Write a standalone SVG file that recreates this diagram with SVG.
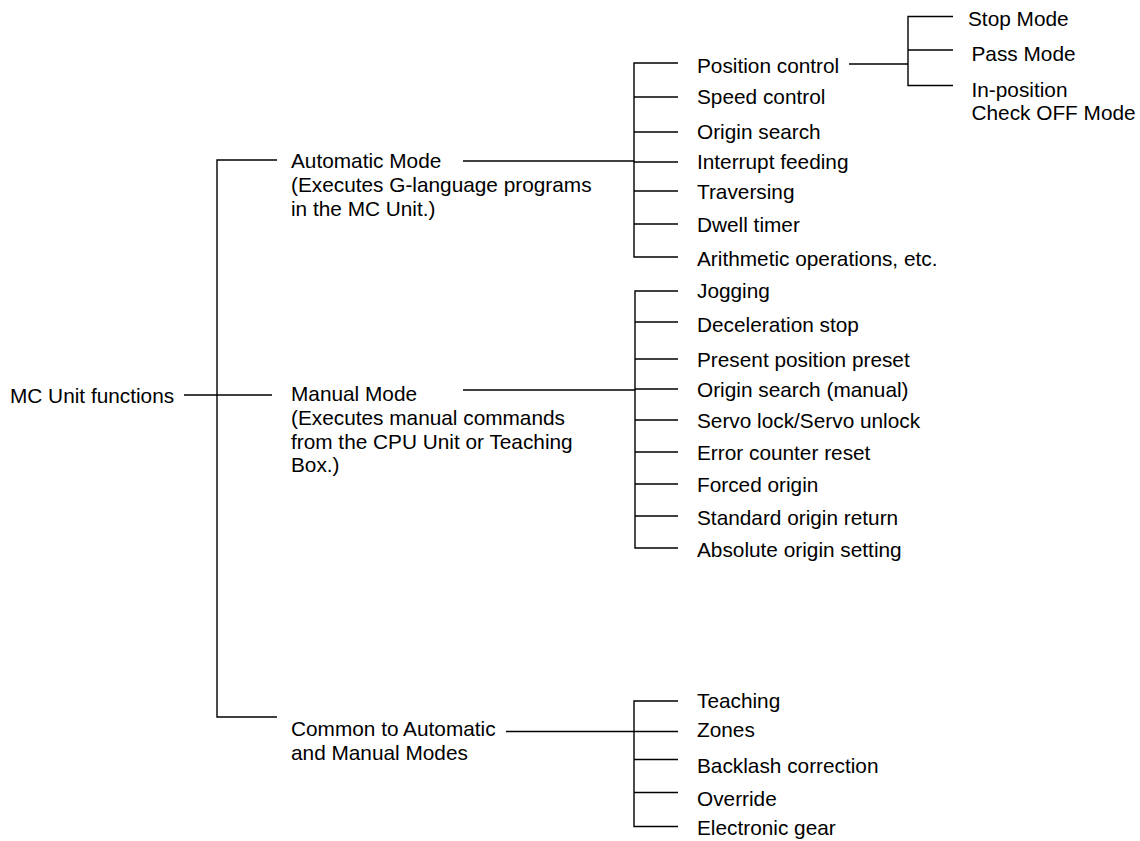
<svg xmlns="http://www.w3.org/2000/svg" width="1140" height="841" viewBox="0 0 1140 841">
<style>
text{font-family:"Liberation Sans",Arial,Helvetica,sans-serif;font-size:20.8px;fill:#000}
.c line,.c path{stroke:#000;stroke-width:1.4;fill:none}
</style>
<rect width="1140" height="841" fill="#fff"/>
<g class="c" id="connectors">
<!-- root -->
<line x1="184" y1="395" x2="272" y2="395"/>
<path d="M277,160 H217 V717 H277"/>
<!-- automatic -->
<line x1="463" y1="161" x2="634" y2="161"/>
<path d="M678,63 H634 V257 H678"/>
<line x1="634" y1="97" x2="678" y2="97"/>
<line x1="634" y1="132" x2="678" y2="132"/>
<line x1="634" y1="162" x2="678" y2="162"/>
<line x1="634" y1="191" x2="678" y2="191"/>
<line x1="634" y1="224" x2="678" y2="224"/>
<!-- position control sub -->
<line x1="849" y1="64" x2="908" y2="64"/>
<path d="M953,16.5 H908 V85.5 H953"/>
<line x1="908" y1="50" x2="953" y2="50"/>
<!-- manual -->
<line x1="463" y1="390" x2="635" y2="390"/>
<path d="M678,291 H635 V548 H678"/>
<line x1="635" y1="322" x2="678" y2="322"/>
<line x1="635" y1="359" x2="678" y2="359"/>
<line x1="635" y1="389" x2="678" y2="389"/>
<line x1="635" y1="420" x2="678" y2="420"/>
<line x1="635" y1="452" x2="678" y2="452"/>
<line x1="635" y1="484" x2="678" y2="484"/>
<line x1="635" y1="516" x2="678" y2="516"/>
<!-- common -->
<line x1="506" y1="731.5" x2="634" y2="731.5"/>
<path d="M678,701 H634 V826.5 H678"/>
<line x1="634" y1="731.5" x2="678" y2="731.5"/>
<line x1="634" y1="759.5" x2="678" y2="759.5"/>
<line x1="634" y1="792.5" x2="678" y2="792.5"/>
</g>
<g id="root"><text x="10" y="403">MC Unit functions</text></g>
<g id="automatic">
<text x="291" y="167.5">Automatic Mode</text>
<text x="291" y="191.5">(Executes G-language programs</text>
<text x="291" y="215.5">in the MC Unit.)</text>
</g>
<g id="manual">
<text x="291" y="400.5">Manual Mode</text>
<text x="291" y="424.5">(Executes manual commands</text>
<text x="291" y="448.5">from the CPU Unit or Teaching</text>
<text x="291" y="472">Box.)</text>
</g>
<g id="common">
<text x="291" y="736">Common to Automatic</text>
<text x="291" y="760">and Manual Modes</text>
</g>
<g id="auto-items">
<g id="position-control"><text x="697" y="73">Position control</text></g>
<g id="speed-control"><text x="697" y="104">Speed control</text></g>
<g id="origin-search"><text x="697" y="138.5">Origin search</text></g>
<g id="interrupt-feeding"><text x="697" y="169">Interrupt feeding</text></g>
<g id="traversing"><text x="697" y="198.5">Traversing</text></g>
<g id="dwell-timer"><text x="697" y="231.5">Dwell timer</text></g>
<g id="arithmetic"><text x="697" y="266">Arithmetic operations, etc.</text></g>
</g>
<g id="position-items">
<g id="stop-mode"><text x="968" y="26">Stop Mode</text></g>
<g id="pass-mode"><text x="971.5" y="61">Pass Mode</text></g>
<g id="in-position"><text x="971.5" y="96.5">In-position</text><text x="971.5" y="120">Check OFF Mode</text></g>
</g>
<g id="manual-items">
<g id="jogging"><text x="697" y="298">Jogging</text></g>
<g id="decel-stop"><text x="697" y="331.5">Deceleration stop</text></g>
<g id="preset"><text x="697" y="366.5">Present position preset</text></g>
<g id="origin-search-manual"><text x="697" y="396.5">Origin search (manual)</text></g>
<g id="servo-lock"><text x="697" y="428">Servo lock/Servo unlock</text></g>
<g id="error-counter"><text x="697" y="460">Error counter reset</text></g>
<g id="forced-origin"><text x="697" y="491.5">Forced origin</text></g>
<g id="standard-origin"><text x="697" y="525">Standard origin return</text></g>
<g id="absolute-origin"><text x="697" y="556.5">Absolute origin setting</text></g>
</g>
<g id="common-items">
<g id="teaching"><text x="697" y="708">Teaching</text></g>
<g id="zones"><text x="697" y="737">Zones</text></g>
<g id="backlash"><text x="697" y="773">Backlash correction</text></g>
<g id="override"><text x="697" y="806">Override</text></g>
<g id="electronic-gear"><text x="697" y="835">Electronic gear</text></g>
</g>
</svg>
